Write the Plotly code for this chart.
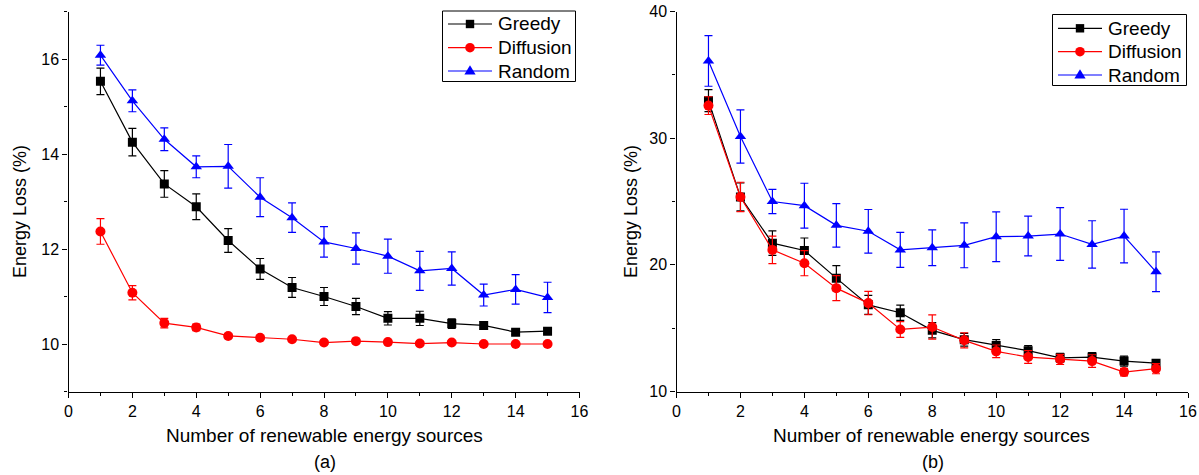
import plotly.graph_objects as go

x_vals = list(range(1, 16))

# Panel (a)
greedy_a = [15.53, 14.25, 13.37, 12.89, 12.18, 11.58, 11.19, 11.00, 10.79, 10.54, 10.54, 10.43, 10.39, 10.25, 10.27]
greedy_a_err = [0.28, 0.29, 0.28, 0.27, 0.25, 0.22, 0.21, 0.19, 0.17, 0.14, 0.15, 0.10, 0.08, 0.05, 0.05]
diff_a = [12.37, 11.08, 10.44, 10.35, 10.17, 10.13, 10.10, 10.03, 10.06, 10.04, 10.01, 10.03, 10.00, 10.00, 10.00]
diff_a_err = [0.27, 0.15, 0.10, 0.07, 0.05, 0.04, 0.03, 0.03, 0.03, 0.03, 0.02, 0.02, 0.02, 0.02, 0.02]
rand_a = [16.08, 15.12, 14.31, 13.73, 13.74, 13.09, 12.66, 12.15, 12.01, 11.85, 11.54, 11.59, 11.03, 11.15, 10.98]
rand_a_err = [0.21, 0.23, 0.24, 0.23, 0.46, 0.41, 0.31, 0.32, 0.33, 0.36, 0.41, 0.35, 0.23, 0.31, 0.32]

# Panel (b)
greedy_b = [32.96, 25.36, 21.71, 21.13, 18.95, 16.84, 16.22, 14.83, 14.09, 13.64, 13.22, 12.66, 12.72, 12.40, 12.24]
greedy_b_err = [0.87, 1.10, 0.97, 0.99, 0.99, 0.75, 0.60, 0.60, 0.50, 0.45, 0.40, 0.35, 0.35, 0.40, 0.20]
diff_b = [32.57, 25.36, 21.18, 20.13, 18.16, 16.98, 14.90, 15.09, 14.04, 13.17, 12.72, 12.53, 12.40, 11.53, 11.80]
diff_b_err = [0.70, 1.16, 1.08, 0.99, 0.99, 0.92, 0.62, 0.96, 0.60, 0.50, 0.50, 0.40, 0.50, 0.30, 0.40]
rand_b = [36.10, 30.13, 25.00, 24.67, 23.12, 22.65, 21.18, 21.35, 21.54, 22.22, 22.27, 22.43, 21.61, 22.27, 19.45]
rand_b_err = [2.00, 2.10, 0.95, 1.77, 1.72, 1.72, 1.38, 1.41, 1.77, 1.96, 1.57, 2.08, 1.87, 2.12, 1.57]

series_names = ["Greedy", "Diffusion", "Random"]
colors = ["#000000", "#ff0000", "#0000ff"]
symbols = ["square", "circle", "triangle-up"]
sizes = [9, 10, 10]

panel_a = [(greedy_a, greedy_a_err), (diff_a, diff_a_err), (rand_a, rand_a_err)]
panel_b = [(greedy_b, greedy_b_err), (diff_b, diff_b_err), (rand_b, rand_b_err)]

FONT = "Liberation Sans, Arial, sans-serif"
W, H = 1199, 475

fig = go.Figure()
for panel, xa, ya in [(panel_a, "x", "y"), (panel_b, "x2", "y2")]:
    for (vals, errs), name, c, s, sz in zip(panel, series_names, colors, symbols, sizes):
        fig.add_trace(go.Scatter(
            x=x_vals, y=vals, name=name, mode="lines+markers",
            xaxis=xa, yaxis=ya, showlegend=False,
            line=dict(color=c, width=1.2),
            marker=dict(symbol=s, size=sz, color=c, line=dict(width=0)),
            error_y=dict(type="data", array=errs, visible=True, color=c, thickness=1.2, width=4),
        ))


def px_x(p):
    return p / W


def px_y(p):
    return 1 - p / H


axis_common = dict(
    showline=True, linecolor="black", linewidth=1.3, mirror=False,
    ticks="outside", ticklen=5, tickwidth=1.2, tickcolor="black",
    showgrid=False, zeroline=False, automargin=False,
    tickfont=dict(family=FONT, size=16, color="black"),
)

fig.update_layout(
    width=W, height=H,
    margin=dict(l=0, r=0, t=0, b=0),
    paper_bgcolor="white", plot_bgcolor="white",
    font=dict(family=FONT, color="black"),
    showlegend=False,
    xaxis=dict(domain=[px_x(68.5), px_x(579.5)], range=[0, 16], dtick=2, tick0=0,
               minor=dict(dtick=1, ticks="outside", ticklen=3, tickcolor="black"),
               anchor="y", **axis_common),
    yaxis=dict(domain=[px_y(391.5), px_y(11.5)], range=[9, 17], dtick=2, tick0=10,
               minor=dict(dtick=1, ticks="outside", ticklen=3, tickcolor="black"),
               anchor="x", **axis_common),
    xaxis2=dict(domain=[px_x(676.5), px_x(1188)], range=[0, 16], dtick=2, tick0=0,
                minor=dict(dtick=1, ticks="outside", ticklen=3, tickcolor="black"),
                anchor="y2", **axis_common),
    yaxis2=dict(domain=[px_y(391.5), px_y(11.5)], range=[10, 40], dtick=10, tick0=10,
                minor=dict(dtick=5, ticks="outside", ticklen=3, tickcolor="black"),
                anchor="x2", **axis_common),
)

# Custom legends (box, line sample, marker, label) drawn in paper space
legend_specs = [
    dict(box=(442.5, 11, 575.5, 81.5), rows=(24, 47.7, 71), line=(448, 492), text_x=496),
    dict(box=(1052.5, 14.5, 1186.5, 85.5), rows=(28.3, 51.7, 75), line=(1058, 1102), text_x=1106),
]
for spec in legend_specs:
    x0, y0, x1, y1 = spec["box"]
    fig.add_shape(type="rect", xref="paper", yref="paper",
                  x0=px_x(x0), x1=px_x(x1), y0=px_y(y1), y1=px_y(y0),
                  line=dict(color="black", width=1), fillcolor="white", layer="above")
    lx0, lx1 = spec["line"]
    mx = (lx0 + lx1) / 2
    for ry, name, c, s in zip(spec["rows"], series_names, colors, symbols):
        fig.add_shape(type="line", xref="paper", yref="paper",
                      x0=px_x(lx0), x1=px_x(lx1), y0=px_y(ry), y1=px_y(ry),
                      line=dict(color=c, width=1.2), layer="above")
        if s == "square":
            h = 4.2
            fig.add_shape(type="rect", xref="paper", yref="paper",
                          x0=px_x(mx - h), x1=px_x(mx + h), y0=px_y(ry + h), y1=px_y(ry - h),
                          line=dict(width=0), fillcolor=c, layer="above")
        elif s == "circle":
            r = 4.8
            fig.add_shape(type="circle", xref="paper", yref="paper",
                          x0=px_x(mx - r), x1=px_x(mx + r), y0=px_y(ry + r), y1=px_y(ry - r),
                          line=dict(width=0), fillcolor=c, layer="above")
        else:
            hw, up, dn = 5.6, 5.8, 3.6
            path = (f"M {px_x(mx - hw)},{px_y(ry + dn)} L {px_x(mx + hw)},{px_y(ry + dn)} "
                    f"L {px_x(mx)},{px_y(ry - up)} Z")
            fig.add_shape(type="path", xref="paper", yref="paper", path=path,
                          line=dict(width=0), fillcolor=c, layer="above")
        fig.add_annotation(xref="paper", yref="paper", showarrow=False,
                           x=px_x(spec["text_x"]), y=px_y(ry), xanchor="left", yanchor="middle",
                           text=name, font=dict(family=FONT, size=19, color="black"))

annotations = [
    dict(text="Number of renewable energy sources", x=px_x(324), y=px_y(435), size=19),
    dict(text="Number of renewable energy sources", x=px_x(932), y=px_y(435), size=19),
    dict(text="(a)", x=px_x(325), y=px_y(462), size=18),
    dict(text="(b)", x=px_x(933), y=px_y(462), size=18),
    dict(text="Energy Loss (%)", x=px_x(20), y=px_y(212), textangle=-90, size=18),
    dict(text="Energy Loss (%)", x=px_x(631), y=px_y(212), textangle=-90, size=18),
]
for a in annotations:
    size = a.pop("size")
    fig.add_annotation(xref="paper", yref="paper", showarrow=False,
                       xanchor="center", yanchor="middle",
                       font=dict(family=FONT, size=size, color="black"), **a)

fig.write_html(
    "out.html",
    config={"displayModeBar": False},
    post_script="document.body.style.margin='0';document.body.style.padding='0';document.body.style.overflow='hidden';",
)
